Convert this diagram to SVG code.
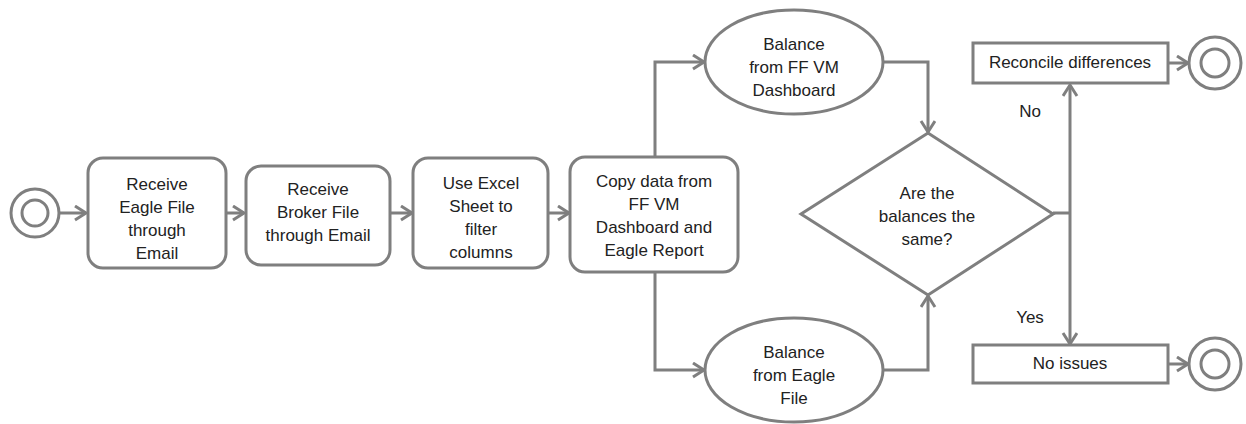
<svg xmlns="http://www.w3.org/2000/svg" width="1246" height="424" viewBox="0 0 1246 424">
<style>
.s{fill:#fff;stroke:#7f7f7f;stroke-width:3}
.c{fill:none;stroke:#7f7f7f;stroke-width:3}
.t{font-family:"Liberation Sans",Arial,sans-serif;font-size:17px;fill:#222;text-anchor:middle}
</style>
<defs>
<marker id="ah" markerUnits="userSpaceOnUse" markerWidth="16" markerHeight="18" refX="12" refY="8" orient="auto">
<path d="M1,1 L12,8 L1,15" fill="none" stroke="#7f7f7f" stroke-width="3"/>
</marker>
</defs>
<g id="connectors" class="c">
<path d="M60,213 H86" marker-end="url(#ah)"/>
<path d="M227,213 H244" marker-end="url(#ah)"/>
<path d="M390,213 H412" marker-end="url(#ah)"/>
<path d="M548,213 H569" marker-end="url(#ah)"/>
<path d="M655,157 V62 H704" marker-end="url(#ah)"/>
<path d="M655,272 V370 H704" marker-end="url(#ah)"/>
<path d="M883,62 H928 V132" marker-end="url(#ah)"/>
<path d="M883,370 H928 V296" marker-end="url(#ah)"/>
<path d="M1053,213 H1070"/>
<path d="M1070,213 V85" marker-end="url(#ah)"/>
<path d="M1070,213 V344" marker-end="url(#ah)"/>
<path d="M1168,63 H1188" marker-end="url(#ah)"/>
<path d="M1168,364 H1188" marker-end="url(#ah)"/>
</g>
<g id="start">
<circle class="s" cx="35" cy="213" r="24"/>
<circle class="s" cx="35" cy="213" r="13"/>
</g>
<g id="n1">
<rect class="s" x="88" y="158" width="138" height="110" rx="15"/>
<text class="t" x="157"><tspan x="157" y="190">Receive</tspan><tspan x="157" y="213">Eagle File</tspan><tspan x="157" y="236">through</tspan><tspan x="157" y="259">Email</tspan></text>
</g>
<g id="n2">
<rect class="s" x="246" y="166" width="144" height="99" rx="15"/>
<text class="t" x="318"><tspan x="318" y="195">Receive</tspan><tspan x="318" y="218">Broker File</tspan><tspan x="318" y="241">through Email</tspan></text>
</g>
<g id="n3">
<rect class="s" x="413" y="158" width="135" height="110" rx="15"/>
<text class="t" x="481"><tspan x="481" y="189">Use Excel</tspan><tspan x="481" y="212">Sheet to</tspan><tspan x="481" y="235">filter</tspan><tspan x="481" y="258">columns</tspan></text>
</g>
<g id="n4">
<rect class="s" x="570" y="157" width="168" height="115" rx="15"/>
<text class="t" x="654"><tspan x="654" y="187">Copy data from</tspan><tspan x="654" y="210">FF VM</tspan><tspan x="654" y="233">Dashboard and</tspan><tspan x="654" y="256">Eagle Report</tspan></text>
</g>
<g id="n5">
<ellipse class="s" cx="794" cy="62" rx="89" ry="52"/>
<text class="t" x="794"><tspan x="794" y="50">Balance</tspan><tspan x="794" y="73">from FF VM</tspan><tspan x="794" y="96">Dashboard</tspan></text>
</g>
<g id="n6">
<ellipse class="s" cx="794" cy="370" rx="89" ry="52"/>
<text class="t" x="794"><tspan x="794" y="358">Balance</tspan><tspan x="794" y="381">from Eagle</tspan><tspan x="794" y="404">File</tspan></text>
</g>
<g id="decision">
<polygon class="s" points="928,133 1053,214 928,295 801,214"/>
<text class="t" x="927"><tspan x="927" y="199">Are the</tspan><tspan x="927" y="222">balances the</tspan><tspan x="927" y="245">same?</tspan></text>
</g>
<g id="n7">
<rect class="s" x="973" y="43" width="195" height="40"/>
<text class="t" x="1070" y="68">Reconcile differences</text>
</g>
<g id="n8">
<rect class="s" x="973" y="345" width="195" height="38"/>
<text class="t" x="1070" y="369">No issues</text>
</g>
<g id="end1">
<circle class="s" cx="1215" cy="63" r="26"/>
<circle class="s" cx="1215" cy="63" r="14"/>
</g>
<g id="end2">
<circle class="s" cx="1215" cy="364" r="26"/>
<circle class="s" cx="1215" cy="364" r="14"/>
</g>
<g id="labels">
<text class="t" x="1030" y="117">No</text>
<text class="t" x="1030" y="323">Yes</text>
</g>
</svg>
